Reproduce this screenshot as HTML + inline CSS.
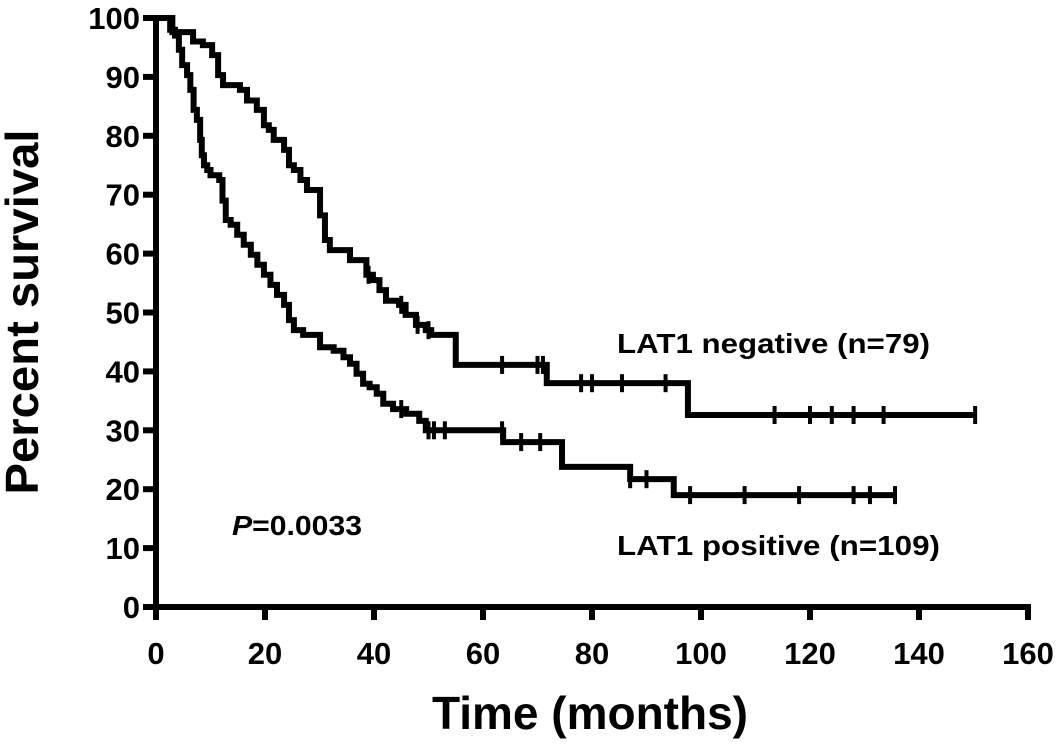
<!DOCTYPE html>
<html><head><meta charset="utf-8"><style>
body{margin:0;background:#fff}
svg{display:block}
text{font-family:"Liberation Sans",Arial,sans-serif;font-weight:bold;fill:#000}
</style></head><body>
<svg id="chart" width="1063" height="744" viewBox="0 0 1063 744"></svg>
<script>
const xTicks=[0,20,40,60,80,100,120,140,160];
const yTicks=[0,10,20,30,40,50,60,70,80,90,100];
const negTimes=[0,3,6.8,8.6,10.3,11.4,12.3,15.4,16.7,18.5,19.8,20.7,21.6,23.5,24.4,25.3,26.5,27.7,30.1,31,31.9,35.6,38.6,39.8,41,42.2,44.6,45.8,47.7,49.5,50.5,55,71.7,97.6];
const negSurv=[100,97.6,96,95.4,93.7,90.3,88.6,87.8,86,84.4,81.8,81,79.3,77.6,75,74.2,72.5,70.8,66.5,62.3,60.6,58.9,56.4,55.5,53.8,52,51.3,49.6,47.9,47,46.2,41.1,38,32.6];
const negEnd=150.3;
const negCensor=[39,45,48,50,63.5,70,71,78,80,85.5,93.5,113.5,120,124,128,133.5,150.3];
const posTimes=[0,2.6,3.5,4.2,4.8,5.7,6.3,6.9,7.5,8.1,8.4,8.8,9.4,10,11.6,12.2,12.8,13.7,14.9,16.1,17.4,18.6,19.8,21,22.2,23.5,24.4,25.3,27,30.1,32.6,34.4,35.6,36.8,38,39.2,40.5,41.7,43.5,45.9,48.3,49.5,63.7,74.5,87,95];
const posSurv=[100,98,97,94.6,92,90.3,87.8,84.4,82.7,79.3,76.7,75,74.2,73.3,72.5,69,65.7,64.9,63.2,61.5,59.8,58.1,56.4,54.7,53,51.3,48.7,47,46.2,44.1,43.5,42.4,41.3,39.6,37.9,37.3,36.2,34.5,33.6,32.8,31.6,30,28,23.8,21.7,19];
const posEnd=135.6;
const posCensor=[45,50,51,53,63.5,67,70.5,87,90,98,108,118,128,131,135.6];

const X=t=>156+t*5.45, Y=v=>607-v*5.89;
const svg=document.getElementById('chart'), NS='http://www.w3.org/2000/svg';
function mk(tag,attrs,parent){const e=document.createElementNS(NS,tag);for(const k in attrs)e.setAttribute(k,attrs[k]);(parent||svg).appendChild(e);return e;}

const ax=mk('path',{d:`M${X(0)},${Y(100)-3}V${Y(0)}H${X(160)+3}`,stroke:'#000','stroke-width':6,fill:'none'});


yTicks.forEach(v=>{
  const l=mk('line',{x1:X(0)-13,x2:X(0),y1:Y(v),y2:Y(v),stroke:'#000','stroke-width':6});
  
  
  const t=mk('text',{x:X(0)-16,y:Y(v)+11,'text-anchor':'end','font-size':31});
  t.textContent=v;
  
  
});
xTicks.forEach(v=>{
  const l=mk('line',{x1:X(v),x2:X(v),y1:Y(0),y2:Y(0)+13,stroke:'#000','stroke-width':6});
  
  
  const t=mk('text',{x:X(v),y:664,'text-anchor':'middle','font-size':31});
  t.textContent=v;
  
  
});
function curve(times,surv,end,cens,name){
  let d=`M${X(times[0])},${Y(surv[0])}`;
  for(let i=1;i<times.length;i++){d+=`H${X(times[i])}V${Y(surv[i])}`;}
  d+=`H${X(end)}`;
  const p=mk('path',{d,stroke:'#000','stroke-width':6,fill:'none','stroke-linejoin':'miter'});
  
  
  cens.forEach(c=>{
    let s=surv[0];for(let i=0;i<times.length;i++)if(times[i]<=c)s=surv[i];
    const m=mk('line',{x1:X(c),x2:X(c),y1:Y(s)-9,y2:Y(s)+9,stroke:'#000','stroke-width':4});
    
    
  });
}
curve(negTimes,negSurv,negEnd,negCensor,'lat1-negative-curve');
curve(posTimes,posSurv,posEnd,posCensor,'lat1-positive-curve');
</script>
<script>
(function(){
const svg=document.getElementById('chart'),NS='http://www.w3.org/2000/svg';
function txt(x,y,s,size,name,extra){const t=document.createElementNS(NS,'text');t.setAttribute('x',x);t.setAttribute('y',y);t.setAttribute('font-size',size);for(const k in (extra||{}))t.setAttribute(k,extra[k]);t.innerHTML=s;


svg.appendChild(t);}
txt(617,353,'LAT1 negative (n=79)',28,'label-lat1-negative',{textLength:313,lengthAdjust:'spacingAndGlyphs'});
txt(617,555,'LAT1 positive (n=109)',28,'label-lat1-positive',{textLength:323,lengthAdjust:'spacingAndGlyphs'});
txt(232,535,'<tspan font-style="italic">P</tspan>=0.0033',28,'p-value',{textLength:130,lengthAdjust:'spacingAndGlyphs'});
txt(590,729,'Time (months)',46,'x-axis-title',{'text-anchor':'middle',textLength:316,lengthAdjust:'spacingAndGlyphs'});
txt(38,312,'Percent survival',46,'y-axis-title',{'text-anchor':'middle',transform:'rotate(-90 38 312)',textLength:365,lengthAdjust:'spacingAndGlyphs'});
})();
</script>
</body></html>
